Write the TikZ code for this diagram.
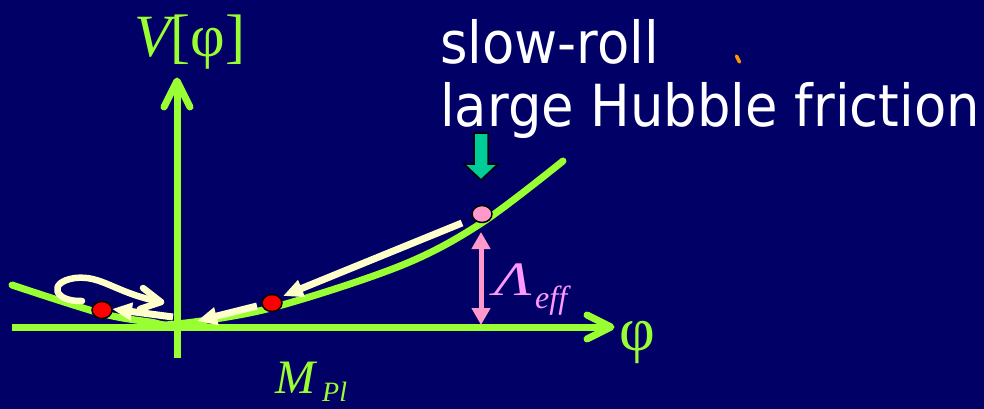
\documentclass[tikz,border=0pt]{standalone}
\usepackage{fontspec}
\setmainfont{Liberation Serif}
\newfontfamily\sansf[FakeStretch=0.91]{DejaVu Sans}
\usetikzlibrary{arrows.meta,shapes.geometric}
\definecolor{bg}{RGB}{0,0,102}
\definecolor{lgreen}{RGB}{153,255,51}
\definecolor{cream}{RGB}{255,255,204}
\definecolor{pinkA}{RGB}{255,153,204}
\definecolor{violetT}{RGB}{255,153,255}
\definecolor{tealA}{RGB}{0,204,153}
\definecolor{orangeT}{RGB}{255,153,0}
\begin{document}
\begin{tikzpicture}[x=1pt,y=-1pt,
  axis/.style={lgreen,line width=7pt},
  chevron/.style={lgreen,line width=7pt,line cap=round,line join=round},
  curvestyle/.style={lgreen,line width=7pt,line cap=round},
  flow/.style={cream,line width=7pt,-{Triangle[length=20pt,width=17pt]}},
  loopflow/.style={cream,line width=6.5pt,line cap=round,line join=round},
  ball/.style={ellipse,draw=black,line width=1.5pt,minimum width=20pt,minimum height=17pt,inner sep=0pt},
  lbl/.style={inner sep=0pt,anchor=base west}]
\fill[bg] (0,0) rectangle (984,409);
\useasboundingbox (0,0) rectangle (984,409);
% axes
\draw[axis] (12,327) -- (608,327);
\draw[axis] (177,358) -- (177,84);
\draw[chevron] (587,315) -- (611,327) -- (587,339);
\draw[chevron] (164,107) -- (177,81) -- (190,107);
% potential curve
\draw[curvestyle] plot[smooth,tension=0.55] coordinates
  {(12,285) (100,313) (150,322) (177,324) (271,308) (400,266) (480,224) (563,161)};
% balls
\node[ball,fill=red] (b1) at (102,310) {};
\node[ball,fill=red] (b2) at (272,303) {};
\node[ball,fill=pinkA] (b3) at (482,214) {};
% flow arrows
\coordinate (a1s) at (462,223);
\coordinate (a1e) at (283,296);
\coordinate (a2s) at (257,306);
\coordinate (a2e) at (197,321);
\coordinate (a3s) at (173,317);
\coordinate (a3e) at (112,309);
\draw[flow] (a1s) -- (a1e);
\draw[flow] (a2s) -- (a2e);
\draw[flow] (a3s) -- (a3e);
\coordinate (ls) at (82,301);
\coordinate (lt) at (161,302);
\draw[loopflow] (ls) .. controls (54,302) and (47,282) .. (75,278)
  .. controls (102,275) and (115,293) .. (lt);
\draw[loopflow] (143,288) -- (lt) -- (140,309);
% teal block arrow
\draw[fill=tealA,draw=black,line width=1.5pt,line join=miter]
  (474,133) -- (488,133) -- (488,164) -- (498,164) -- (481,180) -- (464,164) -- (474,164) -- cycle;
% Lambda arrow
\coordinate (lu) at (481,232);
\coordinate (ld) at (481,325);
\draw[pinkA,line width=5pt,{Triangle[length=17pt,width=18pt]}-{Triangle[length=17pt,width=18pt]}] (lu) -- (ld);
% orange tick
\draw[orangeT,line width=3.5pt,line cap=round] (736.5,56) -- (739.5,62);
% labels
\node[lbl,lgreen,font=\fontsize{60}{60}\selectfont] (vlab) at (134,57) {\itshape V\upshape[φ]};
\node[lbl,lgreen,font=\fontsize{62}{62}\selectfont] (philab) at (619,350) {φ};
\node[lbl,lgreen,font=\fontsize{48}{48}\selectfont\itshape] (mlab) at (275,393) {M};
\node[lbl,lgreen,font=\fontsize{28}{28}\selectfont\itshape] (pllab) at (322,401) {Pl};
\node[lbl,violetT,font=\fontsize{48}{48}\selectfont\itshape] (lamlab) at (494,295) {\scalebox{1.3}[1]{Λ}};
\node[lbl,violetT,font=\fontsize{32}{32}\selectfont\itshape] (efflab) at (535,308) {eff};
\node[lbl,white,font=\sansf\fontsize{58}{58}\selectfont] (t1) at (440,64) {slow-roll};
\node[lbl,white,font=\sansf\fontsize{58}{58}\selectfont] (t2) at (440,127) {large Hubble friction};
\end{tikzpicture}
\end{document}
